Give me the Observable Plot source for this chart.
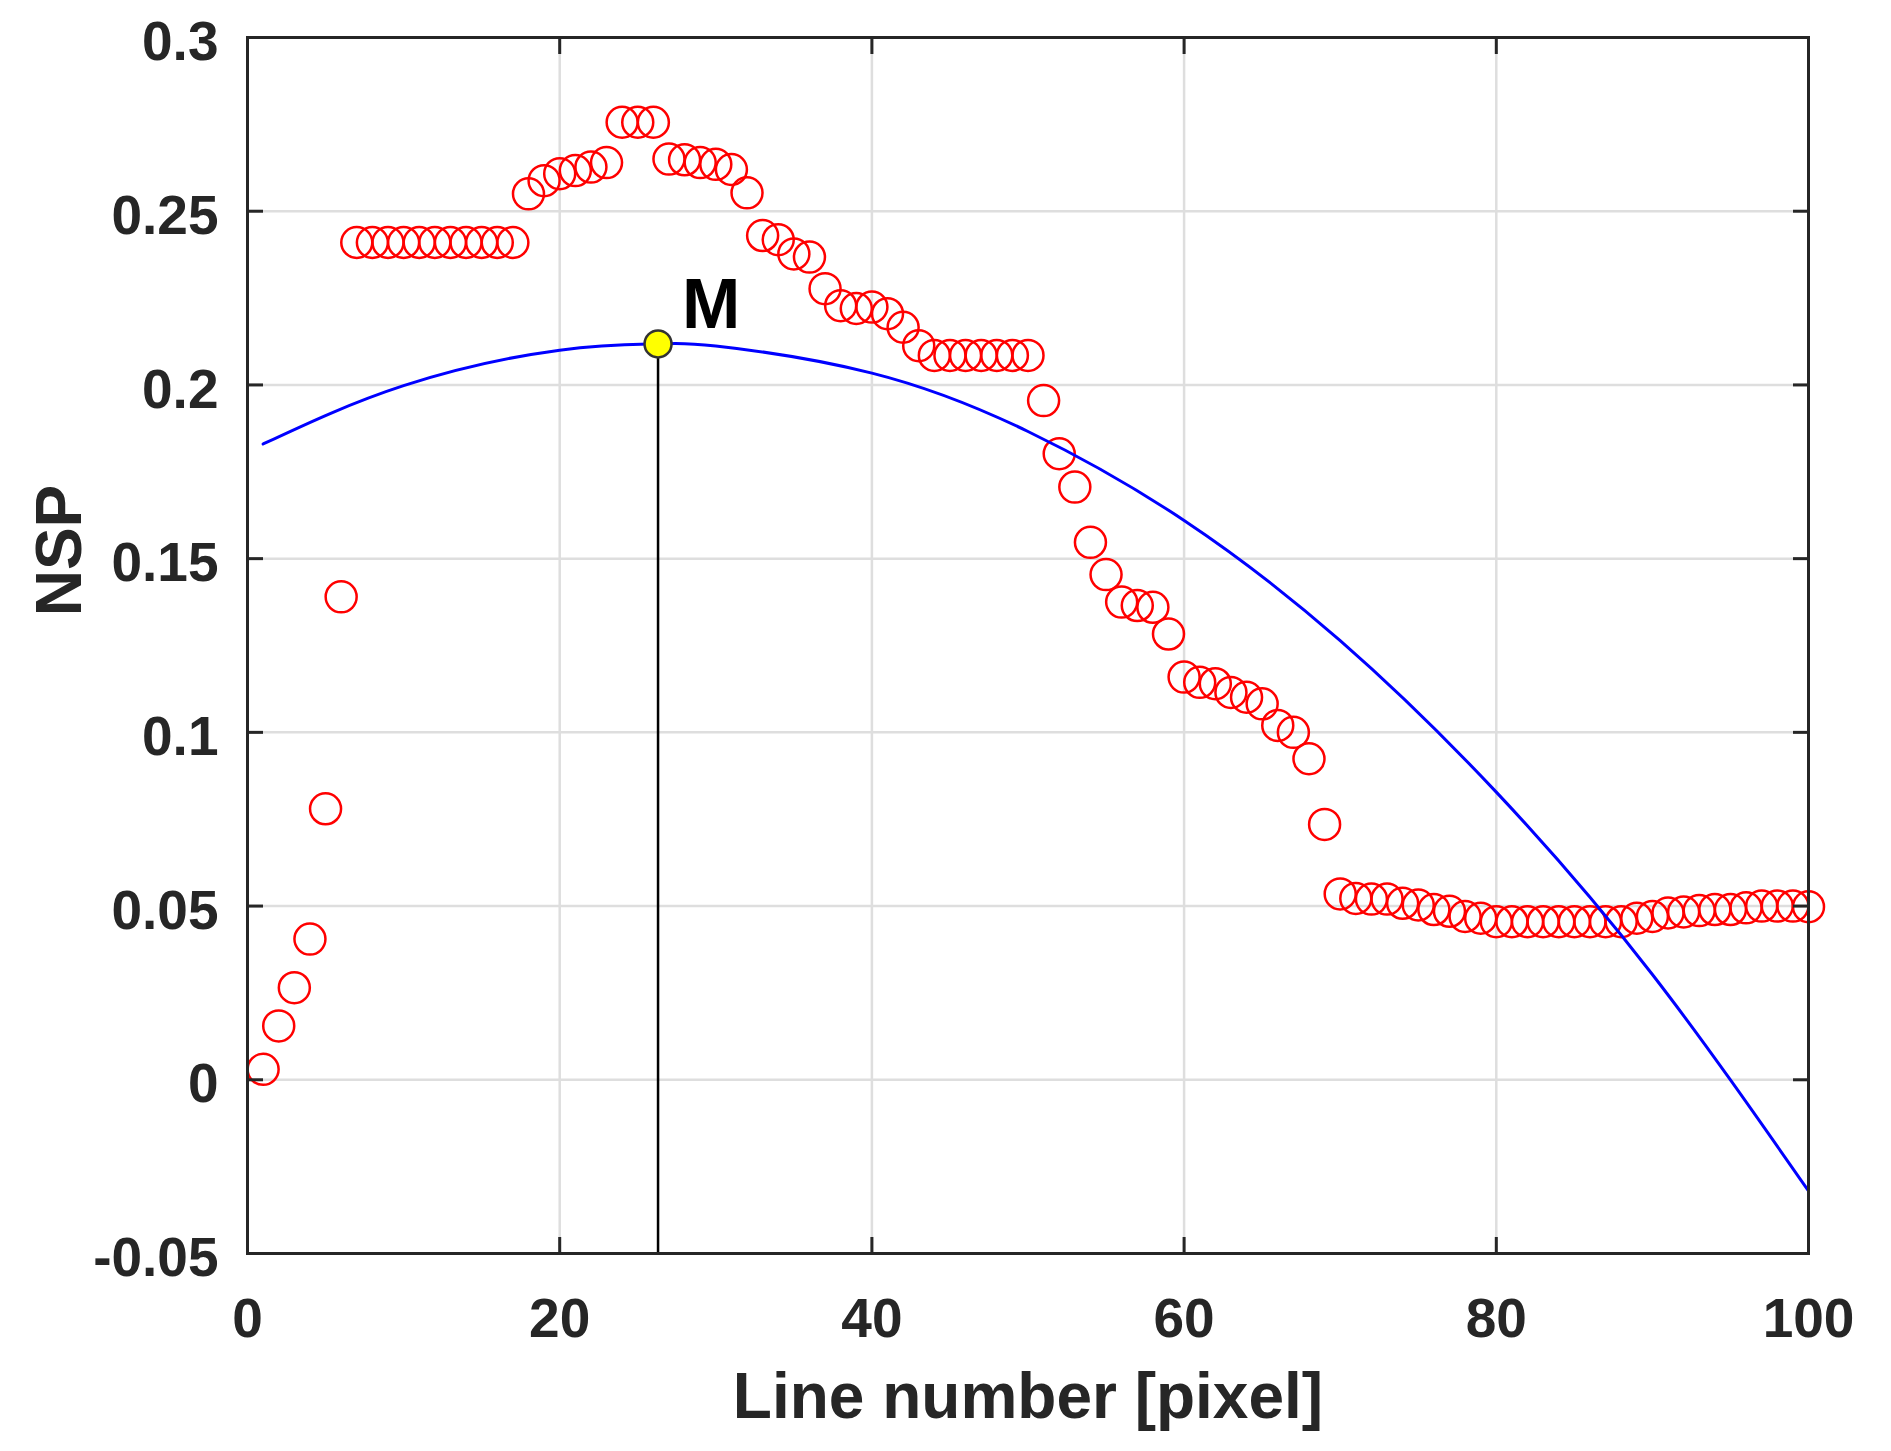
<!DOCTYPE html>
<html>
<head>
<meta charset="utf-8">
<script src="https://cdn.jsdelivr.net/npm/d3@7"></script>
<script src="https://cdn.jsdelivr.net/npm/@observablehq/plot@0.6"></script>
<style>
  html, body { margin: 0; padding: 0; background: #ffffff; }
  #chart svg { display: block; }
</style>
</head>
<body>
<div id="chart"></div>
<script>
// ---- data ----
const lineNumber = Array.from({length: 100}, (_, i) => i + 1);
const nsp = [
  0.003, 0.0155, 0.0265, 0.0405, 0.078, 0.139,
  0.241, 0.241, 0.241, 0.241, 0.241, 0.241, 0.241, 0.241, 0.241, 0.241, 0.241,
  0.255, 0.2588, 0.2608, 0.2617, 0.2627, 0.2640, 0.2756, 0.2756, 0.2756,
  0.2650, 0.2648, 0.2640, 0.2635, 0.2620, 0.2553, 0.2430, 0.2418, 0.2377, 0.2368,
  0.2277, 0.2228, 0.2220, 0.2224, 0.2205, 0.2166, 0.2113,
  0.2085, 0.2085, 0.2085, 0.2085, 0.2085, 0.2085, 0.2085,
  0.1955, 0.1802, 0.1706, 0.1547, 0.1454, 0.1375, 0.1365, 0.1360, 0.1283, 0.1159,
  0.1144, 0.1140, 0.1115, 0.1101, 0.1082, 0.1020, 0.1000, 0.0924, 0.0735, 0.0535,
  0.0522, 0.0520, 0.0520, 0.0508, 0.0503, 0.0490, 0.0485, 0.0470, 0.0465,
  0.0455, 0.0455, 0.0455, 0.0455, 0.0455, 0.0455, 0.0455, 0.0455, 0.0455,
  0.0465, 0.0470, 0.0480, 0.0483, 0.0487, 0.0490, 0.0490, 0.0495, 0.0500, 0.0500, 0.0500, 0.0498
];
// fitted curve
const fitX = [1, 10, 20, 26.3, 30, 40, 50, 60, 70, 80, 90, 100];
const fitY = [0.183, 0.1998, 0.2100, 0.2118, 0.2112, 0.2034, 0.1866, 0.1610, 0.1264, 0.0828, 0.0303, -0.032];
// maximum point M
const mPoint = {x: 26.3, y: 0.2118, label: "M"};

const xTicks = [0, 20, 40, 60, 80, 100];
const yTicks = [-0.05, 0, 0.05, 0.1, 0.15, 0.2, 0.25, 0.3];
const xDomain = [0, 100];
const yDomain = [-0.05, 0.3];
const xLabel = "Line number [pixel]";
const yLabel = "NSP";

// ---- tables ----
const points = lineNumber.map((x, i) => ({x, y: nsp[i]}));
const fit = fitX.map((x, i) => ({x, y: fitY[i]}));

const axisColor = "#262626";
const font = "'Liberation Sans', Arial, Helvetica, sans-serif";

const chart = Plot.plot({
  width: 1891,
  height: 1451,
  marginLeft: 247,
  marginRight: 83,
  marginTop: 37,
  marginBottom: 198,
  style: {fontFamily: font, background: "#ffffff", color: axisColor},
  x: {domain: xDomain},
  y: {domain: yDomain},
  marks: [
    // grid
    Plot.ruleX(xTicks.slice(1, -1), {stroke: "#dedede", strokeWidth: 2.5}),
    Plot.ruleY(yTicks.slice(1, -1), {stroke: "#dedede", strokeWidth: 2.5}),
    // measured NSP
    Plot.dot(points, {x: "x", y: "y", r: 15.5, stroke: "#ff0000", strokeWidth: 2.5, fill: "none"}),
    // fitted curve
    Plot.line(fit, {x: "x", y: "y", stroke: "#0000ff", strokeWidth: 3, curve: "natural"}),
    // drop line from M
    Plot.ruleX([mPoint], {x: "x", y1: "y", y2: () => yDomain[0], stroke: "#000000", strokeWidth: 2.5}),
    Plot.dot([mPoint], {x: "x", y: "y", r: 13.5, fill: "#ffff00", stroke: "#333333", strokeWidth: 2.5}),
    Plot.text([mPoint], {x: "x", y: "y", text: "label", dx: 53, dy: -16, textAnchor: "middle", lineAnchor: "bottom",
      fontSize: 70, fontWeight: "bold", fill: "#000000", fontFamily: font}),
    // box
    Plot.frame({stroke: axisColor, strokeWidth: 3}),
    // inward ticks on all four sides
    Plot.axisX(xTicks, {anchor: "bottom", tickSize: -16, fill: "none", stroke: axisColor, strokeWidth: 3, label: null}),
    Plot.axisX(xTicks, {anchor: "top", tickSize: -16, fill: "none", stroke: axisColor, strokeWidth: 3, label: null}),
    Plot.axisY(yTicks, {anchor: "left", tickSize: -16, fill: "none", stroke: axisColor, strokeWidth: 3, label: null}),
    Plot.axisY(yTicks, {anchor: "right", tickSize: -16, fill: "none", stroke: axisColor, strokeWidth: 3, label: null}),
    // tick labels
    Plot.axisX(xTicks, {anchor: "bottom", tickSize: 0, tickPadding: 44, label: null, tickFormat: d => String(d),
      fontSize: 55, fontWeight: "bold", fill: axisColor, fontFamily: font}),
    Plot.axisY(yTicks, {anchor: "left", tickSize: 0, tickPadding: 29, label: null, tickFormat: d => String(d),
      fontSize: 55, fontWeight: "bold", fill: axisColor, fontFamily: font, dy: 5}),
    // axis titles
    Plot.text([xLabel], {text: d => d, frameAnchor: "bottom", dy: 164, lineAnchor: "bottom", textAnchor: "middle",
      fontSize: 64, fontWeight: "bold", fill: axisColor, fontFamily: font}),
    Plot.text([yLabel], {text: d => d, frameAnchor: "left", dx: -212, dy: -95, rotate: -90, lineAnchor: "top", textAnchor: "middle",
      fontSize: 64, fontWeight: "bold", fill: axisColor, fontFamily: font})
  ]
});
document.getElementById("chart").appendChild(chart);
</script>
</body>
</html>
